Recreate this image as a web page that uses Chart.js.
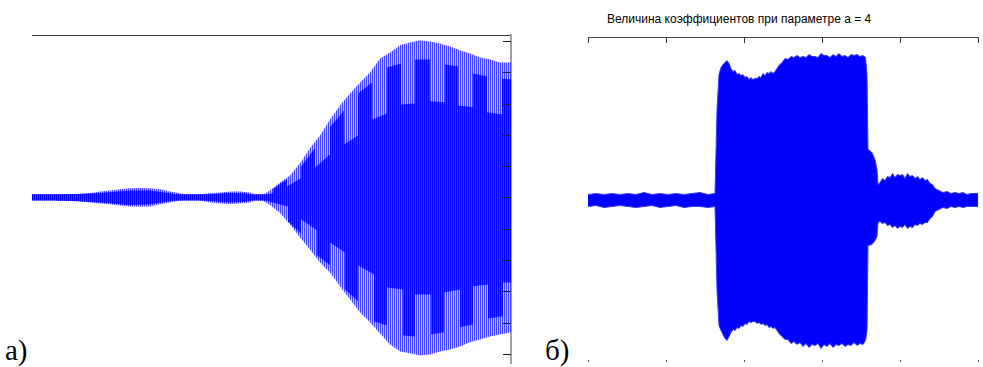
<!DOCTYPE html>
<html><head><meta charset="utf-8">
<script src="https://cdn.jsdelivr.net/npm/chart.js@4.4.1/dist/chart.umd.min.js"></script>
<style>
html,body{margin:0;padding:0;background:#fff;width:983px;height:367px;overflow:hidden;position:relative;}
.cv{position:absolute;}
#ttl{position:absolute;left:607px;top:12px;font:12px "Liberation Sans",Arial,sans-serif;color:#000;white-space:nowrap;}
.lbl{position:absolute;font:29px "Liberation Serif","Times New Roman",serif;color:#000;line-height:1;}
</style></head><body>
<div id="ttl">Величина коэффициентов при параметре a = 4</div>
<div class="lbl" style="left:5px;top:336px">а)</div>
<div class="lbl" style="left:545px;top:336px">б)</div>
<div class="cv" style="left:22px;top:25px;"><canvas id="ca" width="500" height="350"></canvas></div>
<div class="cv" style="left:578px;top:27px;"><canvas id="cb" width="405" height="345"></canvas></div>
<script>
// ---- panel a): time index and signal envelopes ----
const aX   = [0,13,28,43,58,68,78,88,98,108,118,128,138,148,158,168,178,188,198,208,218,226,232,238,248,258,268,278,288,298,308,318,328,338,348,358,368,378,388,398,408,418,428,438,448,458,468,479];
const aTop = [0.06,0.06,0.06,0.10,0.13,0.19,0.22,0.26,0.29,0.30,0.29,0.26,0.19,0.13,0.06,0.10,0.13,0.16,0.19,0.19,0.16,0.06,0.10,0.22,0.48,0.70,1.09,1.57,1.98,2.49,2.94,3.32,3.67,3.99,4.44,4.63,4.86,4.95,5.02,4.98,4.92,4.82,4.70,4.60,4.47,4.41,4.31,4.31];
const aBot = [-0.06,-0.06,-0.10,-0.10,-0.16,-0.19,-0.22,-0.26,-0.29,-0.30,-0.29,-0.22,-0.16,-0.10,-0.06,-0.10,-0.16,-0.19,-0.21,-0.19,-0.16,-0.06,-0.13,-0.24,-0.50,-0.86,-1.28,-1.66,-2.08,-2.40,-2.84,-3.26,-3.67,-3.99,-4.35,-4.70,-4.92,-4.98,-5.05,-5.02,-4.92,-4.86,-4.76,-4.63,-4.54,-4.44,-4.38,-4.31];
// dense (dark) inner part of the oscillation
const aInTopX = [0,68,98,118,138,158,178,198,213,226,234,241,241,255,255,269,269,283,283,298,298,312,312,326,326,340,340,355,355,369,369,383,383,398,398,413,413,426,426,441,441,455,455,470,470,479];
const aInTop  = [0.05,0.14,0.22,0.22,0.13,0.04,0.10,0.14,0.13,0.04,0.08,0.13,0.27,0.58,0.35,0.61,0.99,1.57,0.96,1.37,2.24,2.78,1.69,1.98,3.32,3.67,2.49,2.68,4.15,4.28,2.97,3.00,4.41,4.41,3.07,3.04,4.25,4.19,2.94,2.88,3.96,3.87,2.72,2.65,3.80,3.77];
const aInBotX = [0,68,98,118,138,158,178,198,213,226,234,241,256,256,269,269,285,285,298,298,313,313,326,326,342,342,355,355,371,371,383,383,399,399,412,412,428,428,441,441,456,456,471,471,479];
const aInBot  = [-0.05,-0.16,-0.24,-0.22,-0.11,-0.04,-0.11,-0.16,-0.14,-0.04,-0.10,-0.16,-0.29,-0.77,-1.15,-0.70,-1.05,-1.85,-2.17,-1.44,-1.76,-2.94,-3.32,-2.17,-2.46,-3.96,-4.09,-2.88,-2.94,-4.41,-4.44,-3.10,-3.10,-4.38,-4.31,-3.04,-2.94,-4.15,-4.06,-2.84,-2.78,-3.87,-3.80,-2.72,-2.72];
const aTicks = [-5,-4,-3,-2,-1,0,1,2,3,4,5];

// ---- panel b): coefficient index and magnitude envelopes ----
const bX = [0,80,160,240,320,400,480,560,640,720,800,880,960,1040,1120,1200,1270,
  1290,1310,1330,1350,1370,1390,1410,1430,1450,1470,1490,1510,1530,1550,1570,1590,1610,1630,1650,1670,1690,1710,1730,1750,1770,1790,1810,1830,1850,1870,1890,1910,
  1940,1970,2000,2030,2060,2090,2120,2150,2180,2210,2240,2270,2300,2330,2360,2390,2420,2450,2480,2510,2540,2570,2600,2630,2660,2690,2720,2750,2775,
  2790,2800,2840,2870,2890,2900,
  2920,2945,2970,2995,3020,3045,3070,3095,3120,3145,3170,3195,3220,3245,3270,3295,3320,3345,3370,3395,3420,3445,3470,
  3510,3550,3590,3630,3670,3710,3750,3790,3830,3870,3900];
const bTop = [0.05,0.06,0.05,0.06,0.05,0.06,0.05,0.07,0.05,0.06,0.05,0.06,0.05,0.06,0.07,0.05,0.06,
  0.90,1.25,1.32,1.35,1.37,1.39,1.36,1.31,1.28,1.29,1.25,1.26,1.24,1.25,1.22,1.23,1.20,1.22,1.20,1.21,1.21,1.23,1.22,1.26,1.24,1.27,1.26,1.28,1.26,1.28,1.31,1.34,
  1.37,1.41,1.40,1.43,1.42,1.44,1.42,1.43,1.42,1.45,1.43,1.43,1.42,1.46,1.44,1.44,1.42,1.45,1.43,1.46,1.43,1.44,1.42,1.45,1.44,1.45,1.43,1.44,1.42,
  1.25,0.50,0.47,0.40,0.30,0.15,
  0.17,0.21,0.19,0.23,0.22,0.26,0.22,0.25,0.24,0.25,0.21,0.26,0.23,0.24,0.21,0.23,0.20,0.22,0.19,0.20,0.16,0.15,0.11,
  0.09,0.07,0.08,0.06,0.07,0.06,0.07,0.05,0.06,0.06,0.06];
const bBot = [-0.07,-0.06,-0.08,-0.07,-0.06,-0.07,-0.08,-0.07,-0.06,-0.08,-0.07,-0.06,-0.08,-0.07,-0.07,-0.08,-0.07,
  -0.91,-1.26,-1.31,-1.35,-1.39,-1.41,-1.37,-1.33,-1.30,-1.31,-1.28,-1.29,-1.26,-1.27,-1.24,-1.25,-1.22,-1.23,-1.22,-1.22,-1.24,-1.23,-1.25,-1.24,-1.26,-1.25,-1.28,-1.27,-1.29,-1.28,-1.31,-1.34,
  -1.37,-1.40,-1.40,-1.44,-1.42,-1.45,-1.43,-1.47,-1.44,-1.48,-1.45,-1.46,-1.44,-1.49,-1.45,-1.47,-1.44,-1.48,-1.45,-1.46,-1.44,-1.47,-1.45,-1.46,-1.43,-1.46,-1.44,-1.45,-1.41,
  -1.31,-0.46,-0.45,-0.41,-0.37,-0.23,
  -0.22,-0.24,-0.23,-0.26,-0.25,-0.28,-0.26,-0.29,-0.27,-0.28,-0.25,-0.29,-0.27,-0.28,-0.25,-0.26,-0.24,-0.25,-0.23,-0.23,-0.19,-0.17,-0.12,
  -0.10,-0.08,-0.09,-0.07,-0.08,-0.07,-0.08,-0.07,-0.07,-0.07,-0.07];
const bTicks = [0,780,1560,2340,3120,3900];

const pts = (xs, ys) => xs.map((x, i) => ({x: x, y: ys[i]}));
function stripes(c1, c2) {
  const cv = document.createElement('canvas'); cv.width = 2; cv.height = 1;
  const g = cv.getContext('2d');
  g.fillStyle = c1; g.fillRect(0, 0, 1, 1);
  g.fillStyle = c2; g.fillRect(1, 0, 1, 1);
  return g.createPattern(cv, 'repeat');
}
const lightPat = stripes('#4040ff', '#c2c4ff');
const darkPat  = stripes('#0000ff', '#3a3aff');
const NONE = 'rgba(0,0,0,0)';

const innerTicks = {
  id: 'innerTicks',
  afterDraw(chart, args, o) {
    const ctx = chart.ctx, ca = chart.chartArea;
    ctx.save();
    (o.items || []).forEach(it => {
      const sc = chart.scales[it.scale];
      ctx.strokeStyle = it.color; ctx.lineWidth = 1;
      it.values.forEach(v => {
        const p = Math.round(sc.getPixelForValue(v)) + 0.5;
        ctx.beginPath();
        if (it.side === 'right') { ctx.moveTo(ca.right - it.len, p); ctx.lineTo(ca.right, p); }
        else if (it.side === 'top') { ctx.moveTo(p, ca.top); ctx.lineTo(p, ca.top + it.len); }
        else { ctx.moveTo(p, ca.bottom - it.len); ctx.lineTo(p, ca.bottom); }
        ctx.stroke();
      });
    });
    ctx.restore();
  }
};

// each half is filled a little past the zero line so the two halves overlap (no seam)
const lineDs = (data, bg, order, target, border) => ({
  data: data, fill: { value: target }, backgroundColor: bg, borderColor: border || NONE,
  borderWidth: border ? 1 : 0, pointRadius: 0, tension: 0, order: order
});

new Chart(document.getElementById('ca'), {
  type: 'line',
  data: { datasets: [
    lineDs(pts(aInTopX, aInTop), darkPat, 1, -0.1),
    lineDs(pts(aInBotX, aInBot), darkPat, 1, 0.1),
    lineDs(pts(aX, aTop), lightPat, 2, -0.1),
    lineDs(pts(aX, aBot), lightPat, 2, 0.1)
  ]},
  options: {
    responsive: false, animation: false, events: [],
    layout: { padding: { left: 10, top: 10, right: 11, bottom: 12 } },
    plugins: { legend: { display: false }, tooltip: { enabled: false },
      innerTicks: { items: [{ scale: 'y', side: 'right', len: 8, color: '#222', values: aTicks }] } },
    scales: {
      x: { type: 'linear', position: 'top', min: 0, max: 479,
           grid: { display: false, drawTicks: false }, ticks: { display: false },
           border: { display: true, color: '#333', width: 1 } },
      y: { type: 'linear', position: 'right', min: -5.29, max: 5.19,
           grid: { display: false, drawTicks: false }, ticks: { display: false, stepSize: 1 },
           border: { display: true, color: '#a0a0a0', width: 2 } }
    }
  },
  plugins: [innerTicks]
});

new Chart(document.getElementById('cb'), {
  type: 'line',
  data: { datasets: [
    lineDs(pts(bX, bTop), '#0000ff', 1, -0.02, '#3a3aff'),
    lineDs(pts(bX, bBot), '#0000ff', 1, 0.02, '#3a3aff')
  ]},
  options: {
    responsive: false, animation: false, events: [],
    layout: { padding: { left: 10, top: 10, right: 5, bottom: 10 } },
    plugins: { legend: { display: false }, tooltip: { enabled: false },
      innerTicks: { items: [
        { scale: 'x', side: 'top', len: 6, color: '#333', values: bTicks },
        { scale: 'x', side: 'bottom', len: 2, color: '#555', values: bTicks }
      ] } },
    scales: {
      x: { type: 'linear', position: 'top', min: 0, max: 3900,
           grid: { display: false, drawTicks: false }, ticks: { display: false, stepSize: 780 },
           border: { display: true, color: '#444', width: 1 } },
      y: { type: 'linear', display: false, min: -1.625, max: 1.625 }
    }
  },
  plugins: [innerTicks]
});
</script>
</body></html>
